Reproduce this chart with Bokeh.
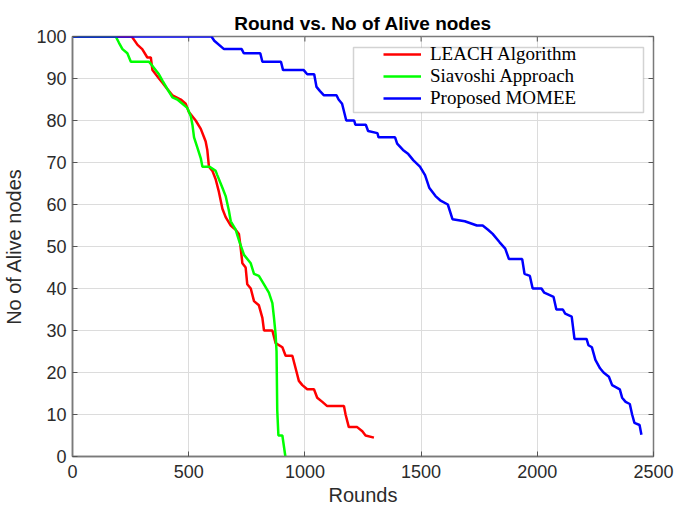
import math
from bokeh.plotting import figure
from bokeh.models import Range1d, Legend, LegendItem, FixedTicker, BoxAnnotation
from bokeh.embed import file_html
from bokeh.resources import INLINE

# ---------------- data ----------------
leach_rounds = [0, 255, 280, 300, 322, 337, 344, 358, 372, 387, 401, 415, 430, 466, 487, 501,
                530, 552, 566, 573, 580, 587, 602, 616, 630, 645, 659, 681, 702, 716, 723, 731,
                745, 752, 767, 781, 802, 817, 824, 860, 874, 903, 917, 946, 960, 974, 989, 1010,
                1039, 1053, 1075, 1096, 1168, 1175, 1189, 1225, 1247, 1261, 1297]
leach_nodes = [100, 100, 98, 97, 95, 95, 92, 91, 90, 89, 88, 87, 86, 85, 84, 82,
               80, 78, 76, 75, 73, 69, 68, 66, 63, 59, 57, 55, 54, 53, 50, 46,
               45, 41, 40, 37, 36, 33, 30, 30, 27, 26, 24, 24, 21, 18, 17, 16,
               16, 14, 13, 12, 12, 10, 7, 7, 6, 5, 4.5]

siav_rounds = [0, 186, 200, 215, 236, 251, 329, 344, 372, 387, 408, 430, 451, 473, 494, 509,
               516, 523, 537, 552, 559, 590, 616, 623, 645, 659, 673, 681, 702, 716, 738, 767,
               781, 802, 824, 845, 860, 867, 874, 878, 881, 886, 903, 916]
siav_nodes = [100, 100, 98.5, 97, 96, 94, 94, 93, 91, 89.5, 87.5, 85.5, 85, 84, 83, 81,
              79, 76, 73.6, 71, 69, 69, 68, 67, 64, 62, 58.5, 56, 54, 51.5, 48, 46,
              43.5, 43, 41, 39, 36.5, 33, 29, 25, 11, 5, 5, 0]

momee_rounds = [0, 598, 610, 652, 728, 737, 808, 817, 897, 906, 995, 1010, 1040, 1050, 1065,
                1082, 1136, 1145, 1160, 1178, 1212, 1217, 1262, 1272, 1312, 1317, 1388, 1397,
                1422, 1445, 1467, 1495, 1517, 1535, 1562, 1582, 1615, 1635, 1688, 1740, 1765,
                1788, 1808, 1838, 1862, 1878, 1935, 1945, 1968, 1980, 2018, 2030, 2070, 2082,
                2110, 2120, 2148, 2160, 2212, 2220, 2235, 2250, 2270, 2285, 2308, 2322, 2355,
                2365, 2380, 2398, 2408, 2418, 2440, 2448]
momee_nodes = [100, 100, 99, 97, 97, 96, 96, 94, 94, 92, 92, 91, 91, 88, 87,
               86, 86, 85, 84, 80, 80, 79, 79, 77.5, 77, 76, 76, 74.5,
               73, 72, 70.5, 69, 67, 64, 62, 61, 60, 56.5, 56, 55, 55,
               54, 53, 51, 49.5, 47, 47, 43.5, 43, 40, 40, 39, 38, 35,
               35, 34, 33.3, 28, 28, 26.5, 26, 23, 21, 20, 19, 17, 16,
               14, 13, 12.5, 10, 8, 7.5, 5.2]

x_ticks = [0, 500, 1000, 1500, 2000, 2500]
y_ticks = [0, 10, 20, 30, 40, 50, 60, 70, 80, 90, 100]
x_lim = [0, 2500]
y_lim = [0, 100]

series_labels = ["LEACH Algorithm", "Siavoshi Approach", "Proposed MOMEE"]
series_colors = ["#ff0000", "#00ff00", "#0000ff"]

# ---------------- figure ----------------
p = figure(width=674, height=508, output_backend="svg", toolbar_location=None,
           x_range=Range1d(*x_lim), y_range=Range1d(*y_lim),
           min_border_left=72, min_border_right=21, min_border_top=36, min_border_bottom=51,
           background_fill_color="white", border_fill_color="white")

p.title.text = "Round vs. No of Alive nodes"
p.title.align = "center"
p.title.text_font = "Liberation Sans"
p.title.text_font_size = "19px"
p.title.text_font_style = "bold"
p.title.text_color = "#000000"
p.title.standoff = 5

p.outline_line_color = "#7a7a7a"
p.outline_line_width = 1.5
p.outline_line_alpha = 1.0

for ax in (p.xaxis[0], p.yaxis[0]):
    ax.axis_line_color = "#7a7a7a"
    ax.axis_line_width = 1.5
    ax.major_tick_in = 5
    ax.major_tick_out = 0
    ax.minor_tick_line_color = None
    ax.major_tick_line_color = "#555555"
    ax.major_label_text_font = "Liberation Sans"
    ax.major_label_text_font_size = "18px"
    ax.major_label_text_color = "#2b2b2b"
    ax.axis_label_text_font = "Liberation Sans"
    ax.axis_label_text_font_size = "20px"
    ax.axis_label_text_font_style = "normal"
    ax.axis_label_text_color = "#2b2b2b"

p.xaxis[0].ticker = FixedTicker(ticks=x_ticks)
p.yaxis[0].ticker = FixedTicker(ticks=y_ticks)
p.xaxis[0].axis_label = "Rounds"
p.yaxis[0].axis_label = "No of Alive nodes"
p.xaxis[0].major_label_standoff = 8
p.yaxis[0].major_label_standoff = 6
p.xaxis[0].axis_label_standoff = 3
p.yaxis[0].axis_label_standoff = 8

p.xgrid.ticker = FixedTicker(ticks=x_ticks)
p.ygrid.ticker = FixedTicker(ticks=y_ticks)
p.grid.grid_line_color = "#dcdcdc"
p.grid.grid_line_width = 1

# inward tick marks on the top and right edges of the box (clipped dashes)
p.scatter(x_ticks, [y_lim[1]] * len(x_ticks), marker="dash", angle=math.pi / 2,
          size=10, line_color="#555555", line_width=1)
p.scatter([x_lim[1]] * len(y_ticks), y_ticks, marker="dash",
          size=10, line_color="#555555", line_width=1)

r1 = p.line(leach_rounds, leach_nodes, line_color=series_colors[0], line_width=2.5)
r2 = p.line(siav_rounds, siav_nodes, line_color=series_colors[1], line_width=2.5)
r3 = p.line(momee_rounds, momee_nodes, line_color=series_colors[2], line_width=2.5)

# legend frame
box = BoxAnnotation(left=281, right=571, bottom=344, top=409,
                    left_units="screen", right_units="screen",
                    bottom_units="screen", top_units="screen",
                    fill_color="white", fill_alpha=1.0,
                    line_color="#6e6e6e", line_width=1.5)
p.add_layout(box)

legend = Legend(items=[LegendItem(label=series_labels[0], renderers=[r1]),
                       LegendItem(label=series_labels[1], renderers=[r2]),
                       LegendItem(label=series_labels[2], renderers=[r3])],
                location=(309, 345), orientation="vertical",
                padding=2, spacing=0, margin=0,
                label_height=20, glyph_height=20, glyph_width=38,
                label_standoff=9, label_width=200,
                label_text_font="Liberation Serif", label_text_font_size="19px",
                label_text_color="#000000",
                border_line_alpha=0, background_fill_alpha=0)
p.add_layout(legend)

open("out.html", "w").write(file_html(p, INLINE))
